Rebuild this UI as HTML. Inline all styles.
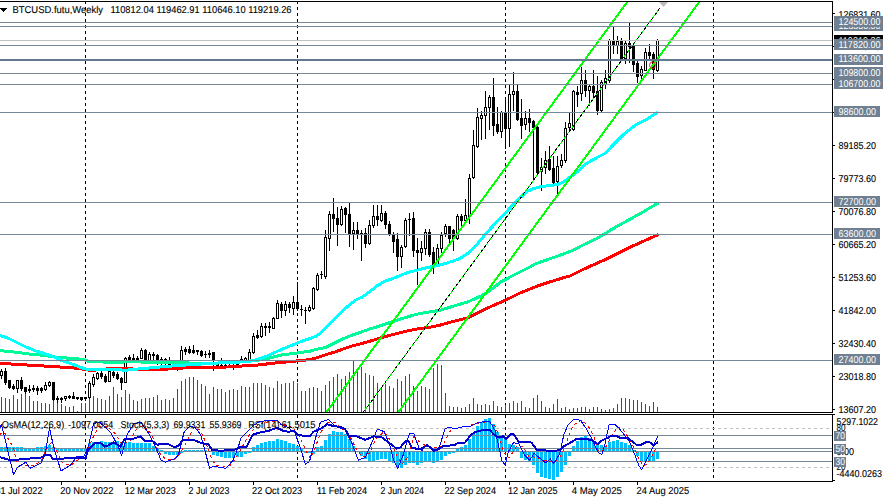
<!DOCTYPE html>
<html><head><meta charset="utf-8"><style>
html,body{margin:0;padding:0;background:#fff;width:883px;height:501px;overflow:hidden}
text{font-family:"Liberation Sans",sans-serif}
</style></head><body>
<svg width="883" height="501" viewBox="0 0 883 501" style="position:absolute;left:0;top:0">
<rect x="0" y="0" width="883" height="501" fill="#ffffff"/>
<g shape-rendering="crispEdges">
<line x1="85.5" y1="2" x2="85.5" y2="412" stroke="#000" stroke-width="1" stroke-dasharray="3 3" stroke-dashoffset="1"/>
<line x1="85.5" y1="415" x2="85.5" y2="481" stroke="#000" stroke-width="1" stroke-dasharray="3 3"/>
<line x1="297.5" y1="2" x2="297.5" y2="412" stroke="#000" stroke-width="1" stroke-dasharray="3 3" stroke-dashoffset="1"/>
<line x1="297.5" y1="415" x2="297.5" y2="481" stroke="#000" stroke-width="1" stroke-dasharray="3 3"/>
<line x1="505.5" y1="2" x2="505.5" y2="412" stroke="#000" stroke-width="1" stroke-dasharray="3 3" stroke-dashoffset="1"/>
<line x1="505.5" y1="415" x2="505.5" y2="481" stroke="#000" stroke-width="1" stroke-dasharray="3 3"/>
<line x1="713.5" y1="2" x2="713.5" y2="412" stroke="#000" stroke-width="1" stroke-dasharray="3 3" stroke-dashoffset="1"/>
<line x1="713.5" y1="415" x2="713.5" y2="481" stroke="#000" stroke-width="1" stroke-dasharray="3 3"/>
<rect x="1" y="397" width="1" height="15" fill="#008000"/>
<rect x="5" y="398" width="1" height="14" fill="#008000"/>
<rect x="9" y="399" width="1" height="13" fill="#008000"/>
<rect x="13" y="395" width="1" height="17" fill="#008000"/>
<rect x="17" y="399" width="1" height="13" fill="#008000"/>
<rect x="21" y="394" width="1" height="18" fill="#008000"/>
<rect x="25" y="392" width="1" height="20" fill="#008000"/>
<rect x="29" y="396" width="1" height="16" fill="#008000"/>
<rect x="33" y="401" width="1" height="11" fill="#008000"/>
<rect x="37" y="401" width="1" height="11" fill="#008000"/>
<rect x="41" y="403" width="1" height="9" fill="#008000"/>
<rect x="45" y="403" width="1" height="9" fill="#008000"/>
<rect x="49" y="404" width="1" height="8" fill="#008000"/>
<rect x="53" y="393" width="1" height="19" fill="#008000"/>
<rect x="57" y="401" width="1" height="11" fill="#008000"/>
<rect x="61" y="404" width="1" height="8" fill="#008000"/>
<rect x="65" y="406" width="1" height="6" fill="#008000"/>
<rect x="69" y="407" width="1" height="5" fill="#008000"/>
<rect x="73" y="406" width="1" height="6" fill="#008000"/>
<rect x="77" y="411" width="1" height="1" fill="#008000"/>
<rect x="81" y="403" width="1" height="9" fill="#008000"/>
<rect x="85" y="403" width="1" height="9" fill="#008000"/>
<rect x="89" y="397" width="1" height="15" fill="#008000"/>
<rect x="93" y="396" width="1" height="16" fill="#008000"/>
<rect x="97" y="398" width="1" height="14" fill="#008000"/>
<rect x="101" y="399" width="1" height="13" fill="#008000"/>
<rect x="105" y="400" width="1" height="12" fill="#008000"/>
<rect x="109" y="396" width="1" height="16" fill="#008000"/>
<rect x="113" y="387" width="1" height="25" fill="#008000"/>
<rect x="117" y="394" width="1" height="18" fill="#008000"/>
<rect x="121" y="397" width="1" height="15" fill="#008000"/>
<rect x="125" y="390" width="1" height="22" fill="#008000"/>
<rect x="129" y="394" width="1" height="18" fill="#008000"/>
<rect x="133" y="400" width="1" height="12" fill="#008000"/>
<rect x="137" y="401" width="1" height="11" fill="#008000"/>
<rect x="141" y="399" width="1" height="13" fill="#008000"/>
<rect x="145" y="398" width="1" height="14" fill="#008000"/>
<rect x="149" y="398" width="1" height="14" fill="#008000"/>
<rect x="153" y="397" width="1" height="15" fill="#008000"/>
<rect x="157" y="395" width="1" height="17" fill="#008000"/>
<rect x="161" y="400" width="1" height="12" fill="#008000"/>
<rect x="165" y="399" width="1" height="13" fill="#008000"/>
<rect x="169" y="400" width="1" height="12" fill="#008000"/>
<rect x="173" y="398" width="1" height="14" fill="#008000"/>
<rect x="177" y="389" width="1" height="23" fill="#008000"/>
<rect x="181" y="381" width="1" height="31" fill="#008000"/>
<rect x="185" y="379" width="1" height="33" fill="#008000"/>
<rect x="189" y="377" width="1" height="35" fill="#008000"/>
<rect x="193" y="377" width="1" height="35" fill="#008000"/>
<rect x="197" y="380" width="1" height="32" fill="#008000"/>
<rect x="201" y="384" width="1" height="28" fill="#008000"/>
<rect x="205" y="386" width="1" height="26" fill="#008000"/>
<rect x="209" y="394" width="1" height="18" fill="#008000"/>
<rect x="213" y="387" width="1" height="25" fill="#008000"/>
<rect x="217" y="389" width="1" height="23" fill="#008000"/>
<rect x="221" y="389" width="1" height="23" fill="#008000"/>
<rect x="225" y="392" width="1" height="20" fill="#008000"/>
<rect x="229" y="390" width="1" height="22" fill="#008000"/>
<rect x="233" y="389" width="1" height="23" fill="#008000"/>
<rect x="237" y="390" width="1" height="22" fill="#008000"/>
<rect x="241" y="386" width="1" height="26" fill="#008000"/>
<rect x="245" y="387" width="1" height="25" fill="#008000"/>
<rect x="249" y="387" width="1" height="25" fill="#008000"/>
<rect x="253" y="383" width="1" height="29" fill="#008000"/>
<rect x="257" y="383" width="1" height="29" fill="#008000"/>
<rect x="261" y="383" width="1" height="29" fill="#008000"/>
<rect x="265" y="385" width="1" height="27" fill="#008000"/>
<rect x="269" y="387" width="1" height="25" fill="#008000"/>
<rect x="273" y="388" width="1" height="24" fill="#008000"/>
<rect x="277" y="381" width="1" height="31" fill="#008000"/>
<rect x="281" y="384" width="1" height="28" fill="#008000"/>
<rect x="285" y="383" width="1" height="29" fill="#008000"/>
<rect x="289" y="383" width="1" height="29" fill="#008000"/>
<rect x="293" y="381" width="1" height="31" fill="#008000"/>
<rect x="297" y="383" width="1" height="29" fill="#008000"/>
<rect x="301" y="391" width="1" height="21" fill="#008000"/>
<rect x="305" y="391" width="1" height="21" fill="#008000"/>
<rect x="309" y="388" width="1" height="24" fill="#008000"/>
<rect x="313" y="387" width="1" height="25" fill="#008000"/>
<rect x="317" y="388" width="1" height="24" fill="#008000"/>
<rect x="321" y="391" width="1" height="21" fill="#008000"/>
<rect x="325" y="385" width="1" height="27" fill="#008000"/>
<rect x="329" y="381" width="1" height="31" fill="#008000"/>
<rect x="333" y="377" width="1" height="35" fill="#008000"/>
<rect x="337" y="374" width="1" height="38" fill="#008000"/>
<rect x="341" y="379" width="1" height="33" fill="#008000"/>
<rect x="345" y="376" width="1" height="36" fill="#008000"/>
<rect x="349" y="372" width="1" height="40" fill="#008000"/>
<rect x="353" y="361" width="1" height="51" fill="#008000"/>
<rect x="357" y="372" width="1" height="40" fill="#008000"/>
<rect x="361" y="367" width="1" height="45" fill="#008000"/>
<rect x="365" y="373" width="1" height="39" fill="#008000"/>
<rect x="369" y="375" width="1" height="37" fill="#008000"/>
<rect x="373" y="376" width="1" height="36" fill="#008000"/>
<rect x="377" y="383" width="1" height="29" fill="#008000"/>
<rect x="381" y="387" width="1" height="25" fill="#008000"/>
<rect x="385" y="384" width="1" height="28" fill="#008000"/>
<rect x="389" y="386" width="1" height="26" fill="#008000"/>
<rect x="393" y="388" width="1" height="24" fill="#008000"/>
<rect x="397" y="379" width="1" height="33" fill="#008000"/>
<rect x="401" y="381" width="1" height="31" fill="#008000"/>
<rect x="405" y="376" width="1" height="36" fill="#008000"/>
<rect x="409" y="374" width="1" height="38" fill="#008000"/>
<rect x="413" y="386" width="1" height="26" fill="#008000"/>
<rect x="417" y="391" width="1" height="21" fill="#008000"/>
<rect x="421" y="386" width="1" height="26" fill="#008000"/>
<rect x="425" y="387" width="1" height="25" fill="#008000"/>
<rect x="429" y="389" width="1" height="23" fill="#008000"/>
<rect x="433" y="368" width="1" height="44" fill="#008000"/>
<rect x="437" y="364" width="1" height="48" fill="#008000"/>
<rect x="441" y="365" width="1" height="47" fill="#008000"/>
<rect x="445" y="393" width="1" height="19" fill="#008000"/>
<rect x="449" y="406" width="1" height="6" fill="#008000"/>
<rect x="453" y="407" width="1" height="5" fill="#008000"/>
<rect x="457" y="407" width="1" height="5" fill="#008000"/>
<rect x="461" y="408" width="1" height="4" fill="#008000"/>
<rect x="465" y="407" width="1" height="5" fill="#008000"/>
<rect x="469" y="404" width="1" height="8" fill="#008000"/>
<rect x="473" y="398" width="1" height="14" fill="#008000"/>
<rect x="477" y="404" width="1" height="8" fill="#008000"/>
<rect x="481" y="405" width="1" height="7" fill="#008000"/>
<rect x="485" y="404" width="1" height="8" fill="#008000"/>
<rect x="489" y="405" width="1" height="7" fill="#008000"/>
<rect x="493" y="401" width="1" height="11" fill="#008000"/>
<rect x="497" y="406" width="1" height="6" fill="#008000"/>
<rect x="501" y="407" width="1" height="5" fill="#008000"/>
<rect x="505" y="405" width="1" height="7" fill="#008000"/>
<rect x="509" y="403" width="1" height="9" fill="#008000"/>
<rect x="513" y="401" width="1" height="11" fill="#008000"/>
<rect x="517" y="403" width="1" height="9" fill="#008000"/>
<rect x="521" y="401" width="1" height="11" fill="#008000"/>
<rect x="525" y="407" width="1" height="5" fill="#008000"/>
<rect x="529" y="408" width="1" height="4" fill="#008000"/>
<rect x="533" y="398" width="1" height="14" fill="#008000"/>
<rect x="537" y="395" width="1" height="17" fill="#008000"/>
<rect x="541" y="401" width="1" height="11" fill="#008000"/>
<rect x="545" y="407" width="1" height="5" fill="#008000"/>
<rect x="549" y="408" width="1" height="4" fill="#008000"/>
<rect x="553" y="404" width="1" height="8" fill="#008000"/>
<rect x="557" y="399" width="1" height="13" fill="#008000"/>
<rect x="561" y="408" width="1" height="4" fill="#008000"/>
<rect x="565" y="407" width="1" height="5" fill="#008000"/>
<rect x="569" y="409" width="1" height="3" fill="#008000"/>
<rect x="573" y="408" width="1" height="4" fill="#008000"/>
<rect x="577" y="408" width="1" height="4" fill="#008000"/>
<rect x="581" y="407" width="1" height="5" fill="#008000"/>
<rect x="585" y="407" width="1" height="5" fill="#008000"/>
<rect x="589" y="409" width="1" height="3" fill="#008000"/>
<rect x="593" y="407" width="1" height="5" fill="#008000"/>
<rect x="597" y="407" width="1" height="5" fill="#008000"/>
<rect x="601" y="409" width="1" height="3" fill="#008000"/>
<rect x="605" y="410" width="1" height="2" fill="#008000"/>
<rect x="609" y="409" width="1" height="3" fill="#008000"/>
<rect x="613" y="408" width="1" height="4" fill="#008000"/>
<rect x="617" y="404" width="1" height="8" fill="#008000"/>
<rect x="621" y="398" width="1" height="14" fill="#008000"/>
<rect x="625" y="398" width="1" height="14" fill="#008000"/>
<rect x="629" y="399" width="1" height="13" fill="#008000"/>
<rect x="633" y="400" width="1" height="12" fill="#008000"/>
<rect x="637" y="400" width="1" height="12" fill="#008000"/>
<rect x="641" y="402" width="1" height="10" fill="#008000"/>
<rect x="645" y="404" width="1" height="8" fill="#008000"/>
<rect x="649" y="406" width="1" height="6" fill="#008000"/>
<rect x="653" y="402" width="1" height="10" fill="#008000"/>
<rect x="657" y="407" width="1" height="5" fill="#008000"/>
</g>
<g shape-rendering="crispEdges">
<rect x="1" y="369" width="1" height="10" fill="#000"/>
<rect x="0" y="371" width="3" height="5" fill="#000"/>
<rect x="1" y="372" width="1" height="3" fill="#fff"/>
<rect x="5" y="368" width="1" height="17" fill="#000"/>
<rect x="4" y="371" width="3" height="12" fill="#000"/>
<rect x="9" y="380" width="1" height="9" fill="#000"/>
<rect x="8" y="380" width="3" height="8" fill="#000"/>
<rect x="13" y="384" width="1" height="6" fill="#000"/>
<rect x="12" y="386" width="3" height="3" fill="#000"/>
<rect x="17" y="380" width="1" height="13" fill="#000"/>
<rect x="16" y="380" width="3" height="9" fill="#000"/>
<rect x="17" y="381" width="1" height="7" fill="#fff"/>
<rect x="21" y="377" width="1" height="14" fill="#000"/>
<rect x="20" y="380" width="3" height="9" fill="#000"/>
<rect x="25" y="387" width="1" height="7" fill="#000"/>
<rect x="24" y="387" width="3" height="5" fill="#000"/>
<rect x="29" y="385" width="1" height="8" fill="#000"/>
<rect x="28" y="389" width="3" height="2" fill="#000"/>
<rect x="33" y="385" width="1" height="7" fill="#000"/>
<rect x="32" y="388" width="3" height="2" fill="#000"/>
<rect x="37" y="386" width="1" height="9" fill="#000"/>
<rect x="36" y="388" width="3" height="3" fill="#000"/>
<rect x="41" y="387" width="1" height="6" fill="#000"/>
<rect x="40" y="388" width="3" height="3" fill="#000"/>
<rect x="45" y="382" width="1" height="9" fill="#000"/>
<rect x="44" y="385" width="3" height="5" fill="#000"/>
<rect x="45" y="386" width="1" height="3" fill="#fff"/>
<rect x="49" y="381" width="1" height="6" fill="#000"/>
<rect x="48" y="382" width="3" height="4" fill="#000"/>
<rect x="49" y="383" width="1" height="2" fill="#fff"/>
<rect x="53" y="382" width="1" height="19" fill="#000"/>
<rect x="52" y="382" width="3" height="18" fill="#000"/>
<rect x="57" y="396" width="1" height="7" fill="#000"/>
<rect x="56" y="398" width="3" height="2" fill="#000"/>
<rect x="61" y="397" width="1" height="6" fill="#000"/>
<rect x="60" y="398" width="3" height="2" fill="#000"/>
<rect x="65" y="396" width="1" height="5" fill="#000"/>
<rect x="64" y="396" width="3" height="3" fill="#000"/>
<rect x="65" y="397" width="1" height="1" fill="#fff"/>
<rect x="69" y="395" width="1" height="4" fill="#000"/>
<rect x="68" y="396" width="3" height="2" fill="#000"/>
<rect x="73" y="392" width="1" height="7" fill="#000"/>
<rect x="72" y="396" width="3" height="3" fill="#000"/>
<rect x="77" y="397" width="1" height="3" fill="#000"/>
<rect x="76" y="397" width="3" height="2" fill="#000"/>
<rect x="81" y="397" width="1" height="4" fill="#000"/>
<rect x="80" y="397" width="3" height="3" fill="#000"/>
<rect x="85" y="397" width="1" height="4" fill="#000"/>
<rect x="84" y="397" width="3" height="2" fill="#000"/>
<rect x="89" y="381" width="1" height="18" fill="#000"/>
<rect x="88" y="383" width="3" height="15" fill="#000"/>
<rect x="89" y="384" width="1" height="13" fill="#fff"/>
<rect x="93" y="374" width="1" height="13" fill="#000"/>
<rect x="92" y="377" width="3" height="8" fill="#000"/>
<rect x="93" y="378" width="1" height="6" fill="#fff"/>
<rect x="97" y="372" width="1" height="8" fill="#000"/>
<rect x="96" y="373" width="3" height="6" fill="#000"/>
<rect x="97" y="374" width="1" height="4" fill="#fff"/>
<rect x="101" y="371" width="1" height="8" fill="#000"/>
<rect x="100" y="373" width="3" height="4" fill="#000"/>
<rect x="105" y="374" width="1" height="9" fill="#000"/>
<rect x="104" y="376" width="3" height="6" fill="#000"/>
<rect x="109" y="371" width="1" height="11" fill="#000"/>
<rect x="108" y="371" width="3" height="11" fill="#000"/>
<rect x="109" y="372" width="1" height="9" fill="#fff"/>
<rect x="113" y="371" width="1" height="7" fill="#000"/>
<rect x="112" y="372" width="3" height="4" fill="#000"/>
<rect x="117" y="372" width="1" height="8" fill="#000"/>
<rect x="116" y="374" width="3" height="5" fill="#000"/>
<rect x="121" y="377" width="1" height="13" fill="#000"/>
<rect x="120" y="378" width="3" height="5" fill="#000"/>
<rect x="125" y="357" width="1" height="26" fill="#000"/>
<rect x="124" y="358" width="3" height="25" fill="#000"/>
<rect x="125" y="359" width="1" height="23" fill="#fff"/>
<rect x="129" y="355" width="1" height="6" fill="#000"/>
<rect x="128" y="357" width="3" height="3" fill="#000"/>
<rect x="133" y="354" width="1" height="7" fill="#000"/>
<rect x="132" y="358" width="3" height="3" fill="#000"/>
<rect x="137" y="356" width="1" height="5" fill="#000"/>
<rect x="136" y="358" width="3" height="2" fill="#000"/>
<rect x="141" y="348" width="1" height="11" fill="#000"/>
<rect x="140" y="350" width="3" height="9" fill="#000"/>
<rect x="141" y="351" width="1" height="7" fill="#fff"/>
<rect x="145" y="349" width="1" height="13" fill="#000"/>
<rect x="144" y="350" width="3" height="11" fill="#000"/>
<rect x="149" y="352" width="1" height="9" fill="#000"/>
<rect x="148" y="354" width="3" height="7" fill="#000"/>
<rect x="149" y="355" width="1" height="5" fill="#fff"/>
<rect x="153" y="352" width="1" height="9" fill="#000"/>
<rect x="152" y="354" width="3" height="2" fill="#000"/>
<rect x="157" y="354" width="1" height="11" fill="#000"/>
<rect x="156" y="355" width="3" height="6" fill="#000"/>
<rect x="161" y="357" width="1" height="9" fill="#000"/>
<rect x="160" y="359" width="3" height="2" fill="#000"/>
<rect x="165" y="358" width="1" height="7" fill="#000"/>
<rect x="164" y="359" width="3" height="2" fill="#000"/>
<rect x="169" y="357" width="1" height="9" fill="#000"/>
<rect x="168" y="364" width="3" height="2" fill="#000"/>
<rect x="173" y="362" width="1" height="4" fill="#000"/>
<rect x="172" y="364" width="3" height="2" fill="#000"/>
<rect x="177" y="363" width="1" height="8" fill="#000"/>
<rect x="176" y="364" width="3" height="2" fill="#000"/>
<rect x="181" y="346" width="1" height="15" fill="#000"/>
<rect x="180" y="350" width="3" height="11" fill="#000"/>
<rect x="181" y="351" width="1" height="9" fill="#fff"/>
<rect x="185" y="347" width="1" height="8" fill="#000"/>
<rect x="184" y="349" width="3" height="3" fill="#000"/>
<rect x="189" y="346" width="1" height="8" fill="#000"/>
<rect x="188" y="349" width="3" height="4" fill="#000"/>
<rect x="193" y="345" width="1" height="9" fill="#000"/>
<rect x="192" y="350" width="3" height="3" fill="#000"/>
<rect x="197" y="350" width="1" height="5" fill="#000"/>
<rect x="196" y="350" width="3" height="2" fill="#000"/>
<rect x="201" y="350" width="1" height="7" fill="#000"/>
<rect x="200" y="351" width="3" height="5" fill="#000"/>
<rect x="205" y="351" width="1" height="7" fill="#000"/>
<rect x="204" y="354" width="3" height="1" fill="#000"/>
<rect x="209" y="350" width="1" height="8" fill="#000"/>
<rect x="208" y="353" width="3" height="2" fill="#000"/>
<rect x="213" y="352" width="1" height="19" fill="#000"/>
<rect x="212" y="352" width="3" height="9" fill="#000"/>
<rect x="217" y="363" width="1" height="4" fill="#000"/>
<rect x="216" y="364" width="3" height="2" fill="#000"/>
<rect x="221" y="358" width="1" height="9" fill="#000"/>
<rect x="220" y="365" width="3" height="1" fill="#000"/>
<rect x="225" y="364" width="1" height="3" fill="#000"/>
<rect x="224" y="365" width="3" height="1" fill="#000"/>
<rect x="229" y="364" width="1" height="3" fill="#000"/>
<rect x="228" y="365" width="3" height="1" fill="#000"/>
<rect x="233" y="364" width="1" height="6" fill="#000"/>
<rect x="232" y="365" width="3" height="1" fill="#000"/>
<rect x="237" y="363" width="1" height="3" fill="#000"/>
<rect x="236" y="364" width="3" height="1" fill="#000"/>
<rect x="241" y="356" width="1" height="5" fill="#000"/>
<rect x="240" y="359" width="3" height="2" fill="#000"/>
<rect x="245" y="357" width="1" height="4" fill="#000"/>
<rect x="244" y="358" width="3" height="3" fill="#000"/>
<rect x="245" y="359" width="1" height="1" fill="#fff"/>
<rect x="249" y="349" width="1" height="12" fill="#000"/>
<rect x="248" y="352" width="3" height="9" fill="#000"/>
<rect x="249" y="353" width="1" height="7" fill="#fff"/>
<rect x="253" y="333" width="1" height="21" fill="#000"/>
<rect x="252" y="336" width="3" height="17" fill="#000"/>
<rect x="253" y="337" width="1" height="15" fill="#fff"/>
<rect x="257" y="330" width="1" height="9" fill="#000"/>
<rect x="256" y="335" width="3" height="3" fill="#000"/>
<rect x="261" y="323" width="1" height="15" fill="#000"/>
<rect x="260" y="326" width="3" height="11" fill="#000"/>
<rect x="261" y="327" width="1" height="9" fill="#fff"/>
<rect x="265" y="323" width="1" height="13" fill="#000"/>
<rect x="264" y="326" width="3" height="2" fill="#000"/>
<rect x="269" y="322" width="1" height="11" fill="#000"/>
<rect x="268" y="326" width="3" height="2" fill="#000"/>
<rect x="273" y="317" width="1" height="12" fill="#000"/>
<rect x="272" y="318" width="3" height="11" fill="#000"/>
<rect x="273" y="319" width="1" height="9" fill="#fff"/>
<rect x="277" y="300" width="1" height="19" fill="#000"/>
<rect x="276" y="303" width="3" height="16" fill="#000"/>
<rect x="277" y="304" width="1" height="14" fill="#fff"/>
<rect x="281" y="302" width="1" height="16" fill="#000"/>
<rect x="280" y="304" width="3" height="7" fill="#000"/>
<rect x="285" y="301" width="1" height="15" fill="#000"/>
<rect x="284" y="304" width="3" height="7" fill="#000"/>
<rect x="285" y="305" width="1" height="5" fill="#fff"/>
<rect x="289" y="302" width="1" height="11" fill="#000"/>
<rect x="288" y="304" width="3" height="4" fill="#000"/>
<rect x="293" y="296" width="1" height="19" fill="#000"/>
<rect x="292" y="302" width="3" height="7" fill="#000"/>
<rect x="293" y="303" width="1" height="5" fill="#fff"/>
<rect x="297" y="282" width="1" height="29" fill="#000"/>
<rect x="296" y="302" width="3" height="7" fill="#000"/>
<rect x="301" y="305" width="1" height="11" fill="#000"/>
<rect x="300" y="309" width="3" height="1" fill="#000"/>
<rect x="305" y="307" width="1" height="17" fill="#000"/>
<rect x="304" y="310" width="3" height="1" fill="#000"/>
<rect x="309" y="305" width="1" height="7" fill="#000"/>
<rect x="308" y="307" width="3" height="4" fill="#000"/>
<rect x="309" y="308" width="1" height="2" fill="#fff"/>
<rect x="313" y="287" width="1" height="23" fill="#000"/>
<rect x="312" y="288" width="3" height="21" fill="#000"/>
<rect x="313" y="289" width="1" height="19" fill="#fff"/>
<rect x="317" y="273" width="1" height="18" fill="#000"/>
<rect x="316" y="275" width="3" height="15" fill="#000"/>
<rect x="317" y="276" width="1" height="13" fill="#fff"/>
<rect x="321" y="271" width="1" height="8" fill="#000"/>
<rect x="320" y="274" width="3" height="1" fill="#000"/>
<rect x="325" y="230" width="1" height="49" fill="#000"/>
<rect x="324" y="237" width="3" height="40" fill="#000"/>
<rect x="325" y="238" width="1" height="38" fill="#fff"/>
<rect x="329" y="211" width="1" height="40" fill="#000"/>
<rect x="328" y="214" width="3" height="25" fill="#000"/>
<rect x="329" y="215" width="1" height="23" fill="#fff"/>
<rect x="333" y="198" width="1" height="34" fill="#000"/>
<rect x="332" y="214" width="3" height="5" fill="#000"/>
<rect x="337" y="207" width="1" height="39" fill="#000"/>
<rect x="336" y="218" width="3" height="7" fill="#000"/>
<rect x="341" y="206" width="1" height="20" fill="#000"/>
<rect x="340" y="209" width="3" height="16" fill="#000"/>
<rect x="341" y="210" width="1" height="14" fill="#fff"/>
<rect x="345" y="207" width="1" height="26" fill="#000"/>
<rect x="344" y="208" width="3" height="7" fill="#000"/>
<rect x="349" y="203" width="1" height="44" fill="#000"/>
<rect x="348" y="214" width="3" height="21" fill="#000"/>
<rect x="353" y="222" width="1" height="28" fill="#000"/>
<rect x="352" y="230" width="3" height="4" fill="#000"/>
<rect x="353" y="231" width="1" height="2" fill="#fff"/>
<rect x="357" y="222" width="1" height="17" fill="#000"/>
<rect x="356" y="230" width="3" height="4" fill="#000"/>
<rect x="361" y="230" width="1" height="31" fill="#000"/>
<rect x="360" y="233" width="3" height="1" fill="#000"/>
<rect x="365" y="228" width="1" height="20" fill="#000"/>
<rect x="364" y="233" width="3" height="11" fill="#000"/>
<rect x="369" y="220" width="1" height="25" fill="#000"/>
<rect x="368" y="225" width="3" height="19" fill="#000"/>
<rect x="369" y="226" width="1" height="17" fill="#fff"/>
<rect x="373" y="205" width="1" height="23" fill="#000"/>
<rect x="372" y="216" width="3" height="10" fill="#000"/>
<rect x="373" y="217" width="1" height="8" fill="#fff"/>
<rect x="377" y="205" width="1" height="21" fill="#000"/>
<rect x="376" y="216" width="3" height="4" fill="#000"/>
<rect x="381" y="205" width="1" height="17" fill="#000"/>
<rect x="380" y="213" width="3" height="8" fill="#000"/>
<rect x="381" y="214" width="1" height="6" fill="#fff"/>
<rect x="385" y="211" width="1" height="18" fill="#000"/>
<rect x="384" y="213" width="3" height="12" fill="#000"/>
<rect x="389" y="221" width="1" height="15" fill="#000"/>
<rect x="388" y="224" width="3" height="11" fill="#000"/>
<rect x="393" y="232" width="1" height="21" fill="#000"/>
<rect x="392" y="234" width="3" height="8" fill="#000"/>
<rect x="397" y="233" width="1" height="38" fill="#000"/>
<rect x="396" y="239" width="3" height="18" fill="#000"/>
<rect x="401" y="245" width="1" height="23" fill="#000"/>
<rect x="400" y="247" width="3" height="10" fill="#000"/>
<rect x="401" y="248" width="1" height="8" fill="#fff"/>
<rect x="405" y="218" width="1" height="30" fill="#000"/>
<rect x="404" y="220" width="3" height="27" fill="#000"/>
<rect x="405" y="221" width="1" height="25" fill="#fff"/>
<rect x="409" y="213" width="1" height="23" fill="#000"/>
<rect x="408" y="219" width="3" height="1" fill="#000"/>
<rect x="413" y="212" width="1" height="45" fill="#000"/>
<rect x="412" y="218" width="3" height="33" fill="#000"/>
<rect x="417" y="238" width="1" height="47" fill="#000"/>
<rect x="416" y="250" width="3" height="3" fill="#000"/>
<rect x="421" y="241" width="1" height="20" fill="#000"/>
<rect x="420" y="248" width="3" height="5" fill="#000"/>
<rect x="421" y="249" width="1" height="3" fill="#fff"/>
<rect x="425" y="229" width="1" height="26" fill="#000"/>
<rect x="424" y="232" width="3" height="17" fill="#000"/>
<rect x="425" y="233" width="1" height="15" fill="#fff"/>
<rect x="429" y="229" width="1" height="28" fill="#000"/>
<rect x="428" y="232" width="3" height="23" fill="#000"/>
<rect x="433" y="247" width="1" height="27" fill="#000"/>
<rect x="432" y="252" width="3" height="14" fill="#000"/>
<rect x="437" y="244" width="1" height="23" fill="#000"/>
<rect x="436" y="248" width="3" height="17" fill="#000"/>
<rect x="437" y="249" width="1" height="15" fill="#fff"/>
<rect x="441" y="232" width="1" height="21" fill="#000"/>
<rect x="440" y="235" width="3" height="14" fill="#000"/>
<rect x="441" y="236" width="1" height="12" fill="#fff"/>
<rect x="445" y="224" width="1" height="13" fill="#000"/>
<rect x="444" y="226" width="3" height="8" fill="#000"/>
<rect x="445" y="227" width="1" height="6" fill="#fff"/>
<rect x="449" y="226" width="1" height="17" fill="#000"/>
<rect x="448" y="226" width="3" height="13" fill="#000"/>
<rect x="453" y="229" width="1" height="22" fill="#000"/>
<rect x="452" y="230" width="3" height="9" fill="#000"/>
<rect x="457" y="214" width="1" height="26" fill="#000"/>
<rect x="456" y="216" width="3" height="23" fill="#000"/>
<rect x="457" y="217" width="1" height="21" fill="#fff"/>
<rect x="461" y="214" width="1" height="14" fill="#000"/>
<rect x="460" y="216" width="3" height="5" fill="#000"/>
<rect x="465" y="199" width="1" height="23" fill="#000"/>
<rect x="464" y="215" width="3" height="6" fill="#000"/>
<rect x="465" y="216" width="1" height="4" fill="#fff"/>
<rect x="469" y="174" width="1" height="50" fill="#000"/>
<rect x="468" y="178" width="3" height="39" fill="#000"/>
<rect x="469" y="179" width="1" height="37" fill="#fff"/>
<rect x="473" y="130" width="1" height="49" fill="#000"/>
<rect x="472" y="145" width="3" height="33" fill="#000"/>
<rect x="473" y="146" width="1" height="31" fill="#fff"/>
<rect x="477" y="108" width="1" height="40" fill="#000"/>
<rect x="476" y="117" width="3" height="30" fill="#000"/>
<rect x="477" y="118" width="1" height="28" fill="#fff"/>
<rect x="481" y="111" width="1" height="29" fill="#000"/>
<rect x="480" y="115" width="3" height="4" fill="#000"/>
<rect x="481" y="116" width="1" height="2" fill="#fff"/>
<rect x="485" y="91" width="1" height="48" fill="#000"/>
<rect x="484" y="107" width="3" height="9" fill="#000"/>
<rect x="485" y="108" width="1" height="7" fill="#fff"/>
<rect x="489" y="95" width="1" height="35" fill="#000"/>
<rect x="488" y="97" width="3" height="11" fill="#000"/>
<rect x="489" y="98" width="1" height="9" fill="#fff"/>
<rect x="493" y="78" width="1" height="58" fill="#000"/>
<rect x="492" y="97" width="3" height="29" fill="#000"/>
<rect x="497" y="107" width="1" height="27" fill="#000"/>
<rect x="496" y="124" width="3" height="8" fill="#000"/>
<rect x="501" y="111" width="1" height="27" fill="#000"/>
<rect x="500" y="112" width="3" height="20" fill="#000"/>
<rect x="501" y="113" width="1" height="18" fill="#fff"/>
<rect x="505" y="98" width="1" height="51" fill="#000"/>
<rect x="504" y="112" width="3" height="17" fill="#000"/>
<rect x="509" y="85" width="1" height="62" fill="#000"/>
<rect x="508" y="94" width="3" height="35" fill="#000"/>
<rect x="509" y="95" width="1" height="33" fill="#fff"/>
<rect x="513" y="72" width="1" height="39" fill="#000"/>
<rect x="512" y="91" width="3" height="4" fill="#000"/>
<rect x="513" y="92" width="1" height="2" fill="#fff"/>
<rect x="517" y="85" width="1" height="36" fill="#000"/>
<rect x="516" y="91" width="3" height="29" fill="#000"/>
<rect x="521" y="99" width="1" height="40" fill="#000"/>
<rect x="520" y="118" width="3" height="8" fill="#000"/>
<rect x="525" y="111" width="1" height="19" fill="#000"/>
<rect x="524" y="118" width="3" height="7" fill="#000"/>
<rect x="525" y="119" width="1" height="5" fill="#fff"/>
<rect x="529" y="109" width="1" height="23" fill="#000"/>
<rect x="528" y="118" width="3" height="5" fill="#000"/>
<rect x="533" y="120" width="1" height="61" fill="#000"/>
<rect x="532" y="121" width="3" height="7" fill="#000"/>
<rect x="537" y="125" width="1" height="49" fill="#000"/>
<rect x="536" y="127" width="3" height="46" fill="#000"/>
<rect x="541" y="158" width="1" height="33" fill="#000"/>
<rect x="540" y="167" width="3" height="5" fill="#000"/>
<rect x="541" y="168" width="1" height="3" fill="#fff"/>
<rect x="545" y="151" width="1" height="23" fill="#000"/>
<rect x="544" y="160" width="3" height="8" fill="#000"/>
<rect x="545" y="161" width="1" height="6" fill="#fff"/>
<rect x="549" y="146" width="1" height="25" fill="#000"/>
<rect x="548" y="159" width="3" height="11" fill="#000"/>
<rect x="553" y="156" width="1" height="28" fill="#000"/>
<rect x="552" y="168" width="3" height="15" fill="#000"/>
<rect x="557" y="156" width="1" height="39" fill="#000"/>
<rect x="556" y="166" width="3" height="16" fill="#000"/>
<rect x="557" y="167" width="1" height="14" fill="#fff"/>
<rect x="561" y="154" width="1" height="14" fill="#000"/>
<rect x="560" y="160" width="3" height="6" fill="#000"/>
<rect x="561" y="161" width="1" height="4" fill="#fff"/>
<rect x="565" y="122" width="1" height="41" fill="#000"/>
<rect x="564" y="128" width="3" height="33" fill="#000"/>
<rect x="565" y="129" width="1" height="31" fill="#fff"/>
<rect x="569" y="112" width="1" height="19" fill="#000"/>
<rect x="568" y="123" width="3" height="5" fill="#000"/>
<rect x="569" y="124" width="1" height="3" fill="#fff"/>
<rect x="573" y="90" width="1" height="41" fill="#000"/>
<rect x="572" y="91" width="3" height="39" fill="#000"/>
<rect x="573" y="92" width="1" height="37" fill="#fff"/>
<rect x="577" y="86" width="1" height="21" fill="#000"/>
<rect x="576" y="92" width="3" height="3" fill="#000"/>
<rect x="581" y="67" width="1" height="34" fill="#000"/>
<rect x="580" y="80" width="3" height="14" fill="#000"/>
<rect x="581" y="81" width="1" height="12" fill="#fff"/>
<rect x="585" y="70" width="1" height="27" fill="#000"/>
<rect x="584" y="80" width="3" height="11" fill="#000"/>
<rect x="589" y="85" width="1" height="21" fill="#000"/>
<rect x="588" y="86" width="3" height="5" fill="#000"/>
<rect x="589" y="87" width="1" height="3" fill="#fff"/>
<rect x="593" y="70" width="1" height="28" fill="#000"/>
<rect x="592" y="86" width="3" height="7" fill="#000"/>
<rect x="597" y="76" width="1" height="39" fill="#000"/>
<rect x="596" y="91" width="3" height="20" fill="#000"/>
<rect x="601" y="80" width="1" height="33" fill="#000"/>
<rect x="600" y="82" width="3" height="29" fill="#000"/>
<rect x="601" y="83" width="1" height="27" fill="#fff"/>
<rect x="605" y="70" width="1" height="19" fill="#000"/>
<rect x="604" y="78" width="3" height="7" fill="#000"/>
<rect x="605" y="79" width="1" height="5" fill="#fff"/>
<rect x="609" y="39" width="1" height="44" fill="#000"/>
<rect x="608" y="40" width="3" height="41" fill="#000"/>
<rect x="609" y="41" width="1" height="39" fill="#fff"/>
<rect x="613" y="26" width="1" height="28" fill="#000"/>
<rect x="612" y="40" width="3" height="5" fill="#000"/>
<rect x="617" y="36" width="1" height="18" fill="#000"/>
<rect x="616" y="41" width="3" height="5" fill="#000"/>
<rect x="617" y="42" width="1" height="3" fill="#fff"/>
<rect x="621" y="38" width="1" height="23" fill="#000"/>
<rect x="620" y="40" width="3" height="19" fill="#000"/>
<rect x="625" y="40" width="1" height="24" fill="#000"/>
<rect x="624" y="43" width="3" height="16" fill="#000"/>
<rect x="625" y="44" width="1" height="14" fill="#fff"/>
<rect x="629" y="23" width="1" height="40" fill="#000"/>
<rect x="628" y="43" width="3" height="4" fill="#000"/>
<rect x="633" y="45" width="1" height="27" fill="#000"/>
<rect x="632" y="46" width="3" height="19" fill="#000"/>
<rect x="637" y="61" width="1" height="22" fill="#000"/>
<rect x="636" y="63" width="3" height="14" fill="#000"/>
<rect x="641" y="66" width="1" height="15" fill="#000"/>
<rect x="640" y="69" width="3" height="7" fill="#000"/>
<rect x="641" y="70" width="1" height="5" fill="#fff"/>
<rect x="645" y="48" width="1" height="23" fill="#000"/>
<rect x="644" y="52" width="3" height="19" fill="#000"/>
<rect x="645" y="53" width="1" height="17" fill="#fff"/>
<rect x="649" y="44" width="1" height="15" fill="#000"/>
<rect x="648" y="52" width="3" height="4" fill="#000"/>
<rect x="653" y="52" width="1" height="27" fill="#000"/>
<rect x="652" y="54" width="3" height="16" fill="#000"/>
<rect x="657" y="39" width="1" height="33" fill="#000"/>
<rect x="656" y="40" width="3" height="31" fill="#000"/>
<rect x="657" y="41" width="1" height="29" fill="#fff"/>
</g>
<g shape-rendering="crispEdges">
<path d="M0.0,363.3 L27.0,365.0 L54.0,366.6 L60.0,367.0 L71.9,367.8 L79.8,368.6 L83.8,369.2 L89.3,370.3 L100.0,369.8 L111.5,368.4 L127.0,368.4 L140.0,369.8 L150.0,369.5 L179.0,368.7 L186.0,367.3 L228.0,367.0 L234.0,366.2 L240.0,366.1 L256.4,365.2 L262.0,364.6 L272.7,363.2 L289.1,361.7 L297.3,360.9 L305.5,360.1 L313.7,358.8 L325.0,355.0 L334.0,352.3 L343.0,349.1 L352.0,346.0 L361.0,343.8 L370.0,341.1 L379.0,338.5 L389.0,335.5 L398.0,333.2 L407.0,331.0 L416.0,329.2 L425.0,327.9 L434.0,326.5 L440.0,325.2 L450.0,322.2 L460.0,319.8 L467.0,318.0 L474.0,314.9 L480.9,311.4 L487.9,307.9 L494.9,304.8 L500.0,302.6 L510.0,298.0 L520.0,293.0 L530.0,289.0 L535.0,287.0 L545.0,283.4 L555.0,280.4 L565.0,277.3 L570.0,276.0 L583.0,269.5 L596.0,263.7 L609.0,257.9 L615.0,254.7 L628.0,248.2 L641.0,242.3 L654.0,236.5 L658.5,234.6" fill="none" stroke="#ff0000" stroke-width="3" stroke-linejoin="round" />
<path d="M0.0,350.6 L9.0,351.5 L18.0,352.4 L27.0,353.8 L36.0,354.6 L45.0,355.5 L54.0,356.9 L62.9,357.8 L71.9,358.3 L83.8,359.5 L87.8,361.1 L107.6,362.3 L130.0,361.9 L161.0,362.2 L182.0,362.4 L195.0,363.6 L212.0,363.3 L240.0,362.0 L256.4,360.4 L265.0,359.1 L274.0,356.9 L283.0,354.6 L292.0,353.7 L301.0,352.4 L310.0,351.1 L319.0,348.8 L325.0,347.6 L334.0,343.3 L343.0,338.8 L352.0,335.2 L361.0,332.1 L370.0,328.9 L379.0,326.2 L389.0,322.9 L398.0,319.8 L407.0,317.1 L416.0,314.4 L425.0,312.6 L434.0,311.2 L440.0,310.3 L450.0,307.2 L460.0,304.1 L467.0,302.3 L474.0,299.2 L481.0,296.0 L487.0,292.5 L494.0,287.5 L500.0,282.5 L510.0,277.0 L520.0,272.0 L530.0,267.0 L535.0,264.0 L545.0,260.5 L555.0,257.0 L565.0,253.5 L575.0,249.3 L583.0,245.0 L596.0,239.0 L609.0,231.2 L615.0,227.5 L628.0,220.3 L641.0,213.2 L654.0,205.4 L658.5,202.8" fill="none" stroke="#00fa9a" stroke-width="3" stroke-linejoin="round" />
<path d="M0.0,335.4 L9.0,338.5 L18.0,343.0 L27.0,347.5 L36.0,351.0 L45.0,353.7 L54.0,357.0 L62.9,361.0 L71.9,363.9 L83.8,368.6 L88.0,369.4 L99.7,369.4 L111.5,369.8 L127.0,370.1 L144.0,368.4 L178.0,365.5 L212.0,363.3 L240.0,362.0 L248.2,361.7 L256.4,359.6 L265.0,356.9 L274.0,352.9 L283.0,348.8 L292.0,345.2 L301.0,341.6 L310.0,338.5 L317.0,335.8 L320.7,332.6 L325.0,328.4 L332.5,320.8 L340.0,313.3 L347.4,306.6 L354.9,300.6 L362.4,296.9 L369.9,291.6 L377.3,285.7 L384.8,281.2 L390.0,279.6 L399.0,276.0 L408.0,272.4 L417.0,270.2 L426.0,267.9 L434.9,266.1 L443.9,263.9 L452.9,261.2 L460.0,258.5 L468.5,253.0 L477.0,244.4 L485.4,234.2 L493.9,224.9 L502.4,216.4 L510.8,207.1 L520.0,197.8 L527.0,191.3 L533.0,188.9 L539.0,187.1 L550.9,185.3 L556.9,184.7 L562.8,182.3 L568.8,178.1 L574.8,173.9 L586.8,163.2 L598.7,156.6 L605.0,153.6 L612.0,146.1 L624.0,134.1 L636.0,124.6 L648.0,118.6 L657.5,112.0" fill="none" stroke="#00ffff" stroke-width="3" stroke-linejoin="round" />
</g>
<g shape-rendering="crispEdges">
<line x1="326.6" y1="412" x2="627.2" y2="2.0" stroke="#00ff00" stroke-width="2" />
<line x1="398.5" y1="412" x2="699.2" y2="2.0" stroke="#00ff00" stroke-width="2" />
<line x1="363.5" y1="412" x2="659.8" y2="8.2" stroke="#00ff00" stroke-width="1" />
<line x1="363.5" y1="412" x2="659.8" y2="8.2" stroke="#000000" stroke-width="1" stroke-dasharray="3 3"/>
</g>
<g shape-rendering="crispEdges">
<line x1="0" y1="22.5" x2="832" y2="22.5" stroke="#778899" stroke-width="1" />
<line x1="0" y1="26.5" x2="832" y2="26.5" stroke="#778899" stroke-width="1" />
<line x1="0" y1="45.5" x2="832" y2="45.5" stroke="#778899" stroke-width="1" />
<line x1="0" y1="73.5" x2="832" y2="73.5" stroke="#778899" stroke-width="1" />
<line x1="0" y1="84.5" x2="832" y2="84.5" stroke="#778899" stroke-width="1" />
<line x1="0" y1="112.5" x2="832" y2="112.5" stroke="#778899" stroke-width="1" />
<line x1="0" y1="202.5" x2="832" y2="202.5" stroke="#778899" stroke-width="1" />
<line x1="0" y1="234.5" x2="832" y2="234.5" stroke="#778899" stroke-width="1" />
<line x1="0" y1="360.5" x2="832" y2="360.5" stroke="#778899" stroke-width="1" />
<line x1="0" y1="60.0" x2="832" y2="60.0" stroke="#647890" stroke-width="2" />
<line x1="0" y1="40.5" x2="832" y2="40.5" stroke="#c0c0c0" stroke-width="1" />
</g>
<ellipse cx="652.5" cy="65.2" rx="3" ry="3.3" fill="none" stroke="#ff2020" stroke-width="1"/>
<polygon points="659,2 668,2 663.5,7" fill="#bdbdbd"/>
<g shape-rendering="crispEdges">
<line x1="0" y1="428.5" x2="832" y2="428.5" stroke="#c0c0c0" stroke-width="1" stroke-dasharray="3 3" stroke-dashoffset="2"/>
<line x1="0" y1="467.5" x2="832" y2="467.5" stroke="#c0c0c0" stroke-width="1" stroke-dasharray="3 3" stroke-dashoffset="2"/>
<rect x="0" y="447" width="3" height="4" fill="#00bfff"/>
<rect x="4" y="447" width="3" height="4" fill="#00bfff"/>
<rect x="8" y="447" width="3" height="4" fill="#00bfff"/>
<rect x="12" y="447" width="3" height="4" fill="#00bfff"/>
<rect x="16" y="447" width="3" height="4" fill="#00bfff"/>
<rect x="20" y="447" width="3" height="4" fill="#00bfff"/>
<rect x="24" y="449" width="3" height="2" fill="#00bfff"/>
<rect x="28" y="449" width="3" height="2" fill="#00bfff"/>
<rect x="32" y="449" width="3" height="2" fill="#00bfff"/>
<rect x="36" y="447" width="3" height="4" fill="#00bfff"/>
<rect x="40" y="447" width="3" height="4" fill="#00bfff"/>
<rect x="44" y="446" width="3" height="5" fill="#00bfff"/>
<rect x="48" y="445" width="3" height="6" fill="#00bfff"/>
<rect x="52" y="447" width="3" height="4" fill="#00bfff"/>
<rect x="56" y="449" width="3" height="2" fill="#00bfff"/>
<rect x="60" y="449" width="3" height="2" fill="#00bfff"/>
<rect x="64" y="449" width="3" height="2" fill="#00bfff"/>
<rect x="68" y="449" width="3" height="2" fill="#00bfff"/>
<rect x="72" y="449" width="3" height="2" fill="#00bfff"/>
<rect x="76" y="449" width="3" height="2" fill="#00bfff"/>
<rect x="80" y="449" width="3" height="2" fill="#00bfff"/>
<rect x="84" y="449" width="3" height="2" fill="#00bfff"/>
<rect x="88" y="443" width="3" height="8" fill="#00bfff"/>
<rect x="92" y="442" width="3" height="9" fill="#00bfff"/>
<rect x="96" y="442" width="3" height="9" fill="#00bfff"/>
<rect x="100" y="441" width="3" height="10" fill="#00bfff"/>
<rect x="104" y="442" width="3" height="9" fill="#00bfff"/>
<rect x="108" y="442" width="3" height="9" fill="#00bfff"/>
<rect x="112" y="442" width="3" height="9" fill="#00bfff"/>
<rect x="116" y="441" width="3" height="10" fill="#00bfff"/>
<rect x="120" y="442" width="3" height="9" fill="#00bfff"/>
<rect x="124" y="442" width="3" height="9" fill="#00bfff"/>
<rect x="128" y="442" width="3" height="9" fill="#00bfff"/>
<rect x="132" y="443" width="3" height="8" fill="#00bfff"/>
<rect x="136" y="443" width="3" height="8" fill="#00bfff"/>
<rect x="140" y="443" width="3" height="8" fill="#00bfff"/>
<rect x="144" y="443" width="3" height="8" fill="#00bfff"/>
<rect x="148" y="443" width="3" height="8" fill="#00bfff"/>
<rect x="152" y="446" width="3" height="5" fill="#00bfff"/>
<rect x="156" y="449" width="3" height="2" fill="#00bfff"/>
<rect x="160" y="450" width="3" height="1" fill="#00bfff"/>
<rect x="164" y="452" width="3" height="2" fill="#00bfff"/>
<rect x="168" y="452" width="3" height="3" fill="#00bfff"/>
<rect x="172" y="452" width="3" height="3" fill="#00bfff"/>
<rect x="176" y="452" width="3" height="3" fill="#00bfff"/>
<rect x="180" y="452" width="3" height="1" fill="#00bfff"/>
<rect x="184" y="450" width="3" height="1" fill="#00bfff"/>
<rect x="188" y="450" width="3" height="1" fill="#00bfff"/>
<rect x="192" y="450" width="3" height="1" fill="#00bfff"/>
<rect x="196" y="450" width="3" height="1" fill="#00bfff"/>
<rect x="200" y="450" width="3" height="1" fill="#00bfff"/>
<rect x="204" y="450" width="3" height="1" fill="#00bfff"/>
<rect x="212" y="452" width="3" height="3" fill="#00bfff"/>
<rect x="216" y="452" width="3" height="4" fill="#00bfff"/>
<rect x="220" y="452" width="3" height="5" fill="#00bfff"/>
<rect x="224" y="452" width="3" height="6" fill="#00bfff"/>
<rect x="228" y="452" width="3" height="6" fill="#00bfff"/>
<rect x="232" y="452" width="3" height="6" fill="#00bfff"/>
<rect x="236" y="452" width="3" height="5" fill="#00bfff"/>
<rect x="240" y="452" width="3" height="5" fill="#00bfff"/>
<rect x="244" y="452" width="3" height="2" fill="#00bfff"/>
<rect x="248" y="452" width="3" height="1" fill="#00bfff"/>
<rect x="252" y="447" width="3" height="4" fill="#00bfff"/>
<rect x="256" y="445" width="3" height="6" fill="#00bfff"/>
<rect x="260" y="443" width="3" height="8" fill="#00bfff"/>
<rect x="264" y="442" width="3" height="9" fill="#00bfff"/>
<rect x="268" y="441" width="3" height="10" fill="#00bfff"/>
<rect x="272" y="441" width="3" height="10" fill="#00bfff"/>
<rect x="276" y="439" width="3" height="12" fill="#00bfff"/>
<rect x="280" y="440" width="3" height="11" fill="#00bfff"/>
<rect x="284" y="441" width="3" height="10" fill="#00bfff"/>
<rect x="288" y="443" width="3" height="8" fill="#00bfff"/>
<rect x="292" y="444" width="3" height="7" fill="#00bfff"/>
<rect x="296" y="446" width="3" height="5" fill="#00bfff"/>
<rect x="300" y="449" width="3" height="2" fill="#00bfff"/>
<rect x="304" y="452" width="3" height="1" fill="#00bfff"/>
<rect x="308" y="452" width="3" height="1" fill="#00bfff"/>
<rect x="312" y="452" width="3" height="2" fill="#00bfff"/>
<rect x="316" y="447" width="3" height="4" fill="#00bfff"/>
<rect x="320" y="446" width="3" height="5" fill="#00bfff"/>
<rect x="324" y="440" width="3" height="11" fill="#00bfff"/>
<rect x="328" y="434" width="3" height="17" fill="#00bfff"/>
<rect x="332" y="431" width="3" height="20" fill="#00bfff"/>
<rect x="336" y="432" width="3" height="19" fill="#00bfff"/>
<rect x="340" y="432" width="3" height="19" fill="#00bfff"/>
<rect x="344" y="434" width="3" height="17" fill="#00bfff"/>
<rect x="348" y="439" width="3" height="12" fill="#00bfff"/>
<rect x="352" y="446" width="3" height="5" fill="#00bfff"/>
<rect x="360" y="452" width="3" height="4" fill="#00bfff"/>
<rect x="364" y="452" width="3" height="7" fill="#00bfff"/>
<rect x="368" y="452" width="3" height="9" fill="#00bfff"/>
<rect x="372" y="452" width="3" height="9" fill="#00bfff"/>
<rect x="376" y="452" width="3" height="8" fill="#00bfff"/>
<rect x="380" y="452" width="3" height="7" fill="#00bfff"/>
<rect x="384" y="452" width="3" height="7" fill="#00bfff"/>
<rect x="388" y="452" width="3" height="9" fill="#00bfff"/>
<rect x="392" y="452" width="3" height="11" fill="#00bfff"/>
<rect x="396" y="452" width="3" height="15" fill="#00bfff"/>
<rect x="400" y="452" width="3" height="16" fill="#00bfff"/>
<rect x="404" y="452" width="3" height="13" fill="#00bfff"/>
<rect x="408" y="452" width="3" height="11" fill="#00bfff"/>
<rect x="412" y="452" width="3" height="11" fill="#00bfff"/>
<rect x="416" y="452" width="3" height="13" fill="#00bfff"/>
<rect x="420" y="452" width="3" height="11" fill="#00bfff"/>
<rect x="424" y="452" width="3" height="9" fill="#00bfff"/>
<rect x="428" y="452" width="3" height="9" fill="#00bfff"/>
<rect x="432" y="452" width="3" height="11" fill="#00bfff"/>
<rect x="436" y="452" width="3" height="10" fill="#00bfff"/>
<rect x="440" y="452" width="3" height="8" fill="#00bfff"/>
<rect x="444" y="452" width="3" height="4" fill="#00bfff"/>
<rect x="448" y="452" width="3" height="2" fill="#00bfff"/>
<rect x="452" y="452" width="3" height="1" fill="#00bfff"/>
<rect x="456" y="449" width="3" height="2" fill="#00bfff"/>
<rect x="460" y="447" width="3" height="4" fill="#00bfff"/>
<rect x="464" y="445" width="3" height="6" fill="#00bfff"/>
<rect x="468" y="439" width="3" height="12" fill="#00bfff"/>
<rect x="472" y="434" width="3" height="17" fill="#00bfff"/>
<rect x="476" y="426" width="3" height="25" fill="#00bfff"/>
<rect x="480" y="422" width="3" height="29" fill="#00bfff"/>
<rect x="484" y="419" width="3" height="32" fill="#00bfff"/>
<rect x="488" y="418" width="3" height="33" fill="#00bfff"/>
<rect x="492" y="424" width="3" height="27" fill="#00bfff"/>
<rect x="496" y="432" width="3" height="19" fill="#00bfff"/>
<rect x="500" y="438" width="3" height="13" fill="#00bfff"/>
<rect x="504" y="438" width="3" height="13" fill="#00bfff"/>
<rect x="508" y="444" width="3" height="7" fill="#00bfff"/>
<rect x="512" y="445" width="3" height="6" fill="#00bfff"/>
<rect x="516" y="447" width="3" height="4" fill="#00bfff"/>
<rect x="520" y="452" width="3" height="6" fill="#00bfff"/>
<rect x="524" y="452" width="3" height="8" fill="#00bfff"/>
<rect x="528" y="452" width="3" height="9" fill="#00bfff"/>
<rect x="532" y="452" width="3" height="13" fill="#00bfff"/>
<rect x="536" y="452" width="3" height="21" fill="#00bfff"/>
<rect x="540" y="452" width="3" height="25" fill="#00bfff"/>
<rect x="544" y="452" width="3" height="26" fill="#00bfff"/>
<rect x="548" y="452" width="3" height="27" fill="#00bfff"/>
<rect x="552" y="452" width="3" height="28" fill="#00bfff"/>
<rect x="556" y="452" width="3" height="25" fill="#00bfff"/>
<rect x="560" y="452" width="3" height="20" fill="#00bfff"/>
<rect x="564" y="452" width="3" height="13" fill="#00bfff"/>
<rect x="568" y="452" width="3" height="4" fill="#00bfff"/>
<rect x="572" y="446" width="3" height="5" fill="#00bfff"/>
<rect x="576" y="441" width="3" height="10" fill="#00bfff"/>
<rect x="580" y="437" width="3" height="14" fill="#00bfff"/>
<rect x="584" y="436" width="3" height="15" fill="#00bfff"/>
<rect x="588" y="438" width="3" height="13" fill="#00bfff"/>
<rect x="592" y="442" width="3" height="9" fill="#00bfff"/>
<rect x="596" y="445" width="3" height="6" fill="#00bfff"/>
<rect x="600" y="445" width="3" height="6" fill="#00bfff"/>
<rect x="604" y="447" width="3" height="4" fill="#00bfff"/>
<rect x="608" y="442" width="3" height="9" fill="#00bfff"/>
<rect x="612" y="441" width="3" height="10" fill="#00bfff"/>
<rect x="616" y="440" width="3" height="11" fill="#00bfff"/>
<rect x="620" y="442" width="3" height="9" fill="#00bfff"/>
<rect x="624" y="443" width="3" height="8" fill="#00bfff"/>
<rect x="628" y="445" width="3" height="6" fill="#00bfff"/>
<rect x="632" y="450" width="3" height="1" fill="#00bfff"/>
<rect x="636" y="452" width="3" height="4" fill="#00bfff"/>
<rect x="640" y="452" width="3" height="9" fill="#00bfff"/>
<rect x="644" y="452" width="3" height="9" fill="#00bfff"/>
<rect x="648" y="452" width="3" height="9" fill="#00bfff"/>
<rect x="652" y="452" width="3" height="10" fill="#00bfff"/>
<rect x="656" y="452" width="3" height="7" fill="#00bfff"/>
<line x1="0" y1="435.5" x2="832" y2="435.5" stroke="#778899" stroke-width="1" />
<line x1="0" y1="448.5" x2="832" y2="448.5" stroke="#778899" stroke-width="1" />
<line x1="0" y1="451.5" x2="832" y2="451.5" stroke="#778899" stroke-width="1" />
<line x1="0" y1="461.5" x2="832" y2="461.5" stroke="#778899" stroke-width="1" />
</g>
<path d="M0.0,434.4 L4.0,431.7 L13.6,448.0 L16.3,461.5 L20.4,465.6 L34.0,465.6 L40.8,461.5 L47.6,446.6 L51.6,442.5 L57.0,452.0 L62.5,462.9 L70.7,465.6 L77.4,460.2 L84.2,457.5 L92.4,438.5 L99.2,426.2 L106.8,426.2 L116.3,434.4 L121.7,444.6 L130.0,441.2 L135.3,430.3 L143.5,424.9 L151.6,434.4 L158.4,452.0 L165.2,458.8 L173.4,460.2 L180.2,453.4 L187.0,441.2 L193.7,427.6 L200.5,430.3 L206.8,445.2 L212.2,460.2 L216.3,465.0 L224.5,466.3 L230.0,465.6 L235.3,458.8 L240.8,449.3 L246.2,439.8 L251.6,431.7 L257.0,426.2 L263.9,422.2 L276.0,421.5 L284.2,424.9 L292.4,427.6 L299.2,435.7 L306.0,450.7 L310.0,458.0 L313.6,452.0 L320.4,433.0 L327.2,422.2 L335.3,422.2 L340.8,427.6 L349.0,434.4 L355.7,448.0 L362.5,457.5 L369.3,453.4 L376.0,438.5 L384.2,431.7 L391.0,441.2 L396.5,454.8 L402.0,464.3 L408.7,456.1 L413.6,437.0 L420.4,442.5 L427.2,446.6 L435.3,447.3 L442.1,446.6 L447.6,435.7 L451.6,429.0 L458.4,427.6 L468.0,426.2 L476.0,423.5 L488.3,421.5 L495.0,426.2 L499.2,437.0 L503.3,450.7 L507.3,457.5 L509.5,457.5 L516.3,446.6 L523.1,446.6 L528.5,456.1 L536.7,457.5 L546.2,460.9 L554.3,462.2 L559.8,457.5 L565.2,446.6 L569.3,434.4 L573.4,424.9 L581.5,420.1 L588.3,426.2 L593.7,435.7 L598.2,450.7 L603.6,450.7 L609.0,441.2 L613.8,433.0 L617.2,426.9 L622.6,429.0 L628.0,437.1 L633.5,446.6 L638.9,458.8 L643.0,465.6 L647.0,464.3 L652.5,454.8 L656.6,446.6" fill="none" stroke="#ff0000" stroke-width="1" stroke-linejoin="round" stroke-dasharray="3 3" shape-rendering="crispEdges"/>
<path d="M0.0,427.6 L1.4,424.0 L13.6,475.0 L17.7,467.0 L25.8,462.2 L30.0,468.3 L41.0,463.0 L45.0,455.0 L49.6,427.6 L51.6,437.8 L54.3,449.3 L61.0,471.0 L70.7,465.0 L77.4,456.0 L84.2,456.0 L88.3,446.6 L93.7,423.5 L99.2,422.0 L104.0,426.0 L110.9,433.0 L117.7,445.2 L121.7,455.4 L127.2,434.4 L134.0,423.5 L140.8,422.2 L147.6,431.7 L154.3,443.9 L161.0,460.2 L165.2,462.2 L176.0,458.2 L178.8,453.4 L184.2,431.7 L189.7,426.2 L195.0,427.6 L200.5,434.4 L204.0,446.6 L209.5,468.3 L213.6,466.3 L225.8,468.3 L232.6,460.9 L238.0,448.0 L240.8,438.5 L247.6,431.7 L254.3,424.9 L259.8,421.5 L265.2,420.8 L277.4,420.1 L281.5,424.9 L288.3,427.6 L295.0,433.0 L300.5,448.0 L305.3,464.3 L309.5,461.5 L315.0,439.8 L320.4,422.2 L328.5,419.4 L335.3,426.2 L344.8,429.6 L351.6,442.5 L358.4,460.2 L365.2,457.5 L370.7,445.2 L377.4,429.0 L384.2,431.7 L389.7,445.2 L393.7,460.2 L397.8,468.3 L403.3,454.8 L409.5,433.0 L413.6,433.0 L419.0,448.0 L421.7,450.7 L427.2,444.6 L434.0,451.4 L439.4,447.3 L444.8,429.0 L449.0,426.9 L454.3,429.0 L462.5,426.9 L470.7,426.2 L478.8,422.2 L489.7,421.5 L495.0,430.3 L497.8,442.5 L502.0,460.9 L505.3,465.0 L508.2,452.0 L513.6,442.5 L519.0,444.0 L524.5,454.8 L529.9,460.2 L534.0,453.4 L540.8,458.8 L545.5,462.9 L550.3,458.8 L553.7,463.6 L559.8,453.4 L563.9,434.4 L567.9,424.9 L573.4,419.4 L580.2,420.1 L585.6,427.6 L592.4,439.8 L597.8,452.0 L601.9,454.8 L605.0,443.9 L609.0,424.9 L614.5,424.2 L618.5,427.6 L624.0,434.4 L629.4,441.2 L634.8,454.8 L638.9,465.6 L641.6,469.7 L647.0,458.8 L652.5,448.0 L658.0,435.7" fill="none" stroke="#0000ff" stroke-width="1" stroke-linejoin="round" shape-rendering="crispEdges"/>
<path d="M0.0,457.2 L8.0,459.5 L13.6,460.0 L27.0,458.8 L41.0,457.5 L46.0,454.8 L50.0,454.8 L53.0,459.5 L68.0,458.2 L85.6,458.2 L88.3,449.3 L95.0,443.2 L100.0,442.5 L104.6,446.6 L106.8,446.0 L113.6,442.5 L120.4,446.6 L124.5,439.0 L134.0,438.5 L140.8,436.4 L144.8,441.2 L151.6,440.5 L157.0,444.6 L168.0,443.9 L174.7,447.3 L178.8,445.3 L182.9,439.8 L195.0,440.5 L202.0,443.2 L208.0,444.0 L212.2,450.0 L220.4,450.7 L234.0,450.0 L238.0,448.0 L242.0,446.6 L246.2,447.3 L253.0,434.4 L261.0,432.3 L268.0,431.0 L277.4,427.6 L281.5,430.3 L288.3,431.7 L293.7,431.0 L297.8,435.0 L309.5,436.4 L313.6,431.7 L320.4,429.0 L327.2,424.2 L334.0,426.2 L340.8,426.9 L344.8,429.0 L349.0,435.7 L357.0,436.4 L365.2,439.8 L373.4,436.4 L381.5,437.1 L389.7,443.2 L396.5,448.6 L400.5,447.3 L405.4,441.2 L408.0,440.5 L412.2,448.0 L420.4,449.3 L427.2,445.0 L434.0,450.7 L438.0,449.3 L443.5,446.0 L454.3,445.2 L458.4,442.5 L465.2,442.5 L470.7,435.0 L476.0,431.7 L481.5,430.3 L489.7,430.0 L493.7,434.4 L497.8,437.1 L503.3,436.4 L506.0,439.0 L510.9,434.4 L513.6,434.4 L519.0,441.9 L531.3,442.5 L535.3,447.3 L536.7,450.4 L544.8,450.4 L553.0,451.4 L561.1,449.6 L563.9,446.0 L570.7,442.5 L577.4,438.5 L587.0,439.1 L592.4,440.5 L597.8,444.0 L600.9,441.2 L603.6,439.8 L607.7,437.8 L610.4,436.4 L617.2,436.4 L621.2,438.2 L628.0,438.2 L632.1,441.2 L636.2,444.6 L640.3,445.0 L645.7,442.3 L649.8,442.5 L653.9,445.3 L658.0,441.9" fill="none" stroke="#0000cd" stroke-width="2" stroke-linejoin="round" shape-rendering="crispEdges"/>
<g shape-rendering="crispEdges">
<line x1="0" y1="1.5" x2="833" y2="1.5" stroke="#000" stroke-width="1" />
<line x1="0" y1="412.5" x2="833" y2="412.5" stroke="#000" stroke-width="1" />
<line x1="832.5" y1="1" x2="832.5" y2="413" stroke="#000" stroke-width="1" />
<line x1="0" y1="414.5" x2="833" y2="414.5" stroke="#000" stroke-width="1" />
<line x1="0" y1="481.5" x2="833" y2="481.5" stroke="#000" stroke-width="1" />
<line x1="832.5" y1="414" x2="832.5" y2="482" stroke="#000" stroke-width="1" />
</g>
<rect x="833" y="13" width="2" height="1" fill="#000" shape-rendering="crispEdges"/>
<text x="838.5" y="18.1" font-family="Liberation Sans, sans-serif" font-size="10" fill="#000" stroke="#000" stroke-width="0.12" text-rendering="geometricPrecision" textLength="42" lengthAdjust="spacingAndGlyphs">126831.60</text>
<rect x="833" y="46" width="2" height="1" fill="#000" shape-rendering="crispEdges"/>
<text x="838.5" y="49.8" font-family="Liberation Sans, sans-serif" font-size="10" fill="#000" stroke="#000" stroke-width="0.12" text-rendering="geometricPrecision" textLength="42" lengthAdjust="spacingAndGlyphs">117419.40</text>
<rect x="833" y="79" width="2" height="1" fill="#000" shape-rendering="crispEdges"/>
<text x="838.5" y="82.8" font-family="Liberation Sans, sans-serif" font-size="10" fill="#000" stroke="#000" stroke-width="0.12" text-rendering="geometricPrecision" textLength="42" lengthAdjust="spacingAndGlyphs">108007.80</text>
<rect x="833" y="112" width="2" height="1" fill="#000" shape-rendering="crispEdges"/>
<text x="838.5" y="115.8" font-family="Liberation Sans, sans-serif" font-size="10" fill="#000" stroke="#000" stroke-width="0.12" text-rendering="geometricPrecision" textLength="37.5" lengthAdjust="spacingAndGlyphs">98596.80</text>
<rect x="833" y="145" width="2" height="1" fill="#000" shape-rendering="crispEdges"/>
<text x="838.5" y="148.8" font-family="Liberation Sans, sans-serif" font-size="10" fill="#000" stroke="#000" stroke-width="0.12" text-rendering="geometricPrecision" textLength="37.5" lengthAdjust="spacingAndGlyphs">89185.20</text>
<rect x="833" y="178" width="2" height="1" fill="#000" shape-rendering="crispEdges"/>
<text x="838.5" y="181.8" font-family="Liberation Sans, sans-serif" font-size="10" fill="#000" stroke="#000" stroke-width="0.12" text-rendering="geometricPrecision" textLength="37.5" lengthAdjust="spacingAndGlyphs">79773.60</text>
<rect x="833" y="211" width="2" height="1" fill="#000" shape-rendering="crispEdges"/>
<text x="838.5" y="214.8" font-family="Liberation Sans, sans-serif" font-size="10" fill="#000" stroke="#000" stroke-width="0.12" text-rendering="geometricPrecision" textLength="37.5" lengthAdjust="spacingAndGlyphs">70076.80</text>
<rect x="833" y="244" width="2" height="1" fill="#000" shape-rendering="crispEdges"/>
<text x="838.5" y="247.8" font-family="Liberation Sans, sans-serif" font-size="10" fill="#000" stroke="#000" stroke-width="0.12" text-rendering="geometricPrecision" textLength="37.5" lengthAdjust="spacingAndGlyphs">60665.20</text>
<rect x="833" y="277" width="2" height="1" fill="#000" shape-rendering="crispEdges"/>
<text x="838.5" y="280.8" font-family="Liberation Sans, sans-serif" font-size="10" fill="#000" stroke="#000" stroke-width="0.12" text-rendering="geometricPrecision" textLength="37.5" lengthAdjust="spacingAndGlyphs">51253.60</text>
<rect x="833" y="310" width="2" height="1" fill="#000" shape-rendering="crispEdges"/>
<text x="838.5" y="313.8" font-family="Liberation Sans, sans-serif" font-size="10" fill="#000" stroke="#000" stroke-width="0.12" text-rendering="geometricPrecision" textLength="37.5" lengthAdjust="spacingAndGlyphs">41842.00</text>
<rect x="833" y="343" width="2" height="1" fill="#000" shape-rendering="crispEdges"/>
<text x="838.5" y="346.8" font-family="Liberation Sans, sans-serif" font-size="10" fill="#000" stroke="#000" stroke-width="0.12" text-rendering="geometricPrecision" textLength="37.5" lengthAdjust="spacingAndGlyphs">32430.40</text>
<rect x="833" y="376" width="2" height="1" fill="#000" shape-rendering="crispEdges"/>
<text x="838.5" y="379.8" font-family="Liberation Sans, sans-serif" font-size="10" fill="#000" stroke="#000" stroke-width="0.12" text-rendering="geometricPrecision" textLength="37.5" lengthAdjust="spacingAndGlyphs">23018.80</text>
<rect x="833" y="409" width="2" height="1" fill="#000" shape-rendering="crispEdges"/>
<text x="838.5" y="412.8" font-family="Liberation Sans, sans-serif" font-size="10" fill="#000" stroke="#000" stroke-width="0.12" text-rendering="geometricPrecision" textLength="37.5" lengthAdjust="spacingAndGlyphs">13607.20</text>
<rect x="834" y="20" width="49" height="11" fill="#708090" shape-rendering="crispEdges"/>
<text x="838.5" y="28.8" font-family="Liberation Sans, sans-serif" font-size="10" fill="#ffffff" stroke="#ffffff" stroke-width="0" text-rendering="geometricPrecision" textLength="42" lengthAdjust="spacingAndGlyphs">123350.00</text>
<rect x="834" y="16" width="49" height="11" fill="#708090" shape-rendering="crispEdges"/>
<text x="838.5" y="24.8" font-family="Liberation Sans, sans-serif" font-size="10" fill="#ffffff" stroke="#ffffff" stroke-width="0" text-rendering="geometricPrecision" textLength="42" lengthAdjust="spacingAndGlyphs">124500.00</text>
<rect x="834" y="35" width="49" height="11" fill="#000000" shape-rendering="crispEdges"/>
<text x="838.5" y="44.3" font-family="Liberation Sans, sans-serif" font-size="10" fill="#ffffff" stroke="#ffffff" stroke-width="0" text-rendering="geometricPrecision" textLength="42" lengthAdjust="spacingAndGlyphs">119219.26</text>
<rect x="834" y="39" width="49" height="11" fill="#708090" shape-rendering="crispEdges"/>
<text x="838.5" y="47.8" font-family="Liberation Sans, sans-serif" font-size="10" fill="#ffffff" stroke="#ffffff" stroke-width="0" text-rendering="geometricPrecision" textLength="42" lengthAdjust="spacingAndGlyphs">117820.00</text>
<rect x="834" y="54" width="49" height="11" fill="#708090" shape-rendering="crispEdges"/>
<text x="838.5" y="61.8" font-family="Liberation Sans, sans-serif" font-size="10" fill="#ffffff" stroke="#ffffff" stroke-width="0" text-rendering="geometricPrecision" textLength="42" lengthAdjust="spacingAndGlyphs">113600.00</text>
<rect x="834" y="67" width="49" height="11" fill="#708090" shape-rendering="crispEdges"/>
<text x="838.5" y="75.8" font-family="Liberation Sans, sans-serif" font-size="10" fill="#ffffff" stroke="#ffffff" stroke-width="0" text-rendering="geometricPrecision" textLength="42" lengthAdjust="spacingAndGlyphs">109800.00</text>
<rect x="834" y="78" width="49" height="11" fill="#708090" shape-rendering="crispEdges"/>
<text x="838.5" y="86.8" font-family="Liberation Sans, sans-serif" font-size="10" fill="#ffffff" stroke="#ffffff" stroke-width="0" text-rendering="geometricPrecision" textLength="42" lengthAdjust="spacingAndGlyphs">106700.00</text>
<rect x="834" y="106" width="46" height="11" fill="#708090" shape-rendering="crispEdges"/>
<text x="838.5" y="114.8" font-family="Liberation Sans, sans-serif" font-size="10" fill="#ffffff" stroke="#ffffff" stroke-width="0" text-rendering="geometricPrecision" textLength="37.5" lengthAdjust="spacingAndGlyphs">98600.00</text>
<rect x="834" y="196" width="46" height="11" fill="#708090" shape-rendering="crispEdges"/>
<text x="838.5" y="204.8" font-family="Liberation Sans, sans-serif" font-size="10" fill="#ffffff" stroke="#ffffff" stroke-width="0" text-rendering="geometricPrecision" textLength="37.5" lengthAdjust="spacingAndGlyphs">72700.00</text>
<rect x="834" y="228" width="46" height="11" fill="#708090" shape-rendering="crispEdges"/>
<text x="838.5" y="236.8" font-family="Liberation Sans, sans-serif" font-size="10" fill="#ffffff" stroke="#ffffff" stroke-width="0" text-rendering="geometricPrecision" textLength="37.5" lengthAdjust="spacingAndGlyphs">63600.00</text>
<rect x="834" y="354" width="46" height="11" fill="#708090" shape-rendering="crispEdges"/>
<text x="838.5" y="362.8" font-family="Liberation Sans, sans-serif" font-size="10" fill="#ffffff" stroke="#ffffff" stroke-width="0" text-rendering="geometricPrecision" textLength="37.5" lengthAdjust="spacingAndGlyphs">27400.00</text>
<rect x="833" y="414" width="2" height="1" fill="#000" shape-rendering="crispEdges"/>
<rect x="833" y="480" width="2" height="1" fill="#000" shape-rendering="crispEdges"/>
<text x="836.5" y="425" font-family="Liberation Sans, sans-serif" font-size="10" fill="#000" stroke="#000" stroke-width="0.12" text-rendering="geometricPrecision" textLength="41.5" lengthAdjust="spacingAndGlyphs">5297.1022</text>
<text x="836.5" y="431" font-family="Liberation Sans, sans-serif" font-size="10" fill="#000" stroke="#000" stroke-width="0.12" text-rendering="geometricPrecision" textLength="9" lengthAdjust="spacingAndGlyphs">80</text>
<text x="836.5" y="454.6" font-family="Liberation Sans, sans-serif" font-size="10" fill="#000" stroke="#000" stroke-width="0.12" text-rendering="geometricPrecision" textLength="17.5" lengthAdjust="spacingAndGlyphs">0.00</text>
<text x="836.5" y="470" font-family="Liberation Sans, sans-serif" font-size="10" fill="#000" stroke="#000" stroke-width="0.12" text-rendering="geometricPrecision" textLength="9" lengthAdjust="spacingAndGlyphs">20</text>
<text x="836.5" y="477" font-family="Liberation Sans, sans-serif" font-size="10" fill="#000" stroke="#000" stroke-width="0.12" text-rendering="geometricPrecision" textLength="45.5" lengthAdjust="spacingAndGlyphs">-4440.0263</text>
<rect x="834" y="431" width="12" height="10" fill="#708090" shape-rendering="crispEdges"/>
<text x="835.5" y="439" font-family="Liberation Sans, sans-serif" font-size="10" fill="#fff" stroke="#fff" stroke-width="0" text-rendering="geometricPrecision" textLength="9.5" lengthAdjust="spacingAndGlyphs">70</text>
<rect x="834" y="444" width="12" height="10" fill="#708090" shape-rendering="crispEdges"/>
<text x="835.5" y="452" font-family="Liberation Sans, sans-serif" font-size="10" fill="#fff" stroke="#fff" stroke-width="0" text-rendering="geometricPrecision" textLength="9.5" lengthAdjust="spacingAndGlyphs">50</text>
<rect x="834" y="457" width="12" height="10" fill="#708090" shape-rendering="crispEdges"/>
<text x="835.5" y="465" font-family="Liberation Sans, sans-serif" font-size="10" fill="#fff" stroke="#fff" stroke-width="0" text-rendering="geometricPrecision" textLength="9.5" lengthAdjust="spacingAndGlyphs">30</text>
<text x="-4.6" y="494" font-family="Liberation Sans, sans-serif" font-size="10" fill="#000" stroke="#000" stroke-width="0.12" text-rendering="geometricPrecision" textLength="47.1" lengthAdjust="spacingAndGlyphs">31 Jul 2022</text>
<rect x="61" y="482" width="1" height="3" fill="#000" shape-rendering="crispEdges"/>
<text x="60.3" y="494" font-family="Liberation Sans, sans-serif" font-size="10" fill="#000" stroke="#000" stroke-width="0.12" text-rendering="geometricPrecision" textLength="53.2" lengthAdjust="spacingAndGlyphs">20 Nov 2022</text>
<rect x="125" y="482" width="1" height="3" fill="#000" shape-rendering="crispEdges"/>
<text x="124.7" y="494" font-family="Liberation Sans, sans-serif" font-size="10" fill="#000" stroke="#000" stroke-width="0.12" text-rendering="geometricPrecision" textLength="51.1" lengthAdjust="spacingAndGlyphs">12 Mar 2023</text>
<rect x="189" y="482" width="1" height="3" fill="#000" shape-rendering="crispEdges"/>
<text x="188.6" y="494" font-family="Liberation Sans, sans-serif" font-size="10" fill="#000" stroke="#000" stroke-width="0.12" text-rendering="geometricPrecision" textLength="40.8" lengthAdjust="spacingAndGlyphs">2 Jul 2023</text>
<rect x="253" y="482" width="1" height="3" fill="#000" shape-rendering="crispEdges"/>
<text x="252.1" y="494" font-family="Liberation Sans, sans-serif" font-size="10" fill="#000" stroke="#000" stroke-width="0.12" text-rendering="geometricPrecision" textLength="50.1" lengthAdjust="spacingAndGlyphs">22 Oct 2023</text>
<rect x="317" y="482" width="1" height="3" fill="#000" shape-rendering="crispEdges"/>
<text x="317" y="494" font-family="Liberation Sans, sans-serif" font-size="10" fill="#000" stroke="#000" stroke-width="0.12" text-rendering="geometricPrecision" textLength="49.9" lengthAdjust="spacingAndGlyphs">11 Feb 2024</text>
<rect x="381" y="482" width="1" height="3" fill="#000" shape-rendering="crispEdges"/>
<text x="380.5" y="494" font-family="Liberation Sans, sans-serif" font-size="10" fill="#000" stroke="#000" stroke-width="0.12" text-rendering="geometricPrecision" textLength="43.5" lengthAdjust="spacingAndGlyphs">2 Jun 2024</text>
<rect x="445" y="482" width="1" height="3" fill="#000" shape-rendering="crispEdges"/>
<text x="444.4" y="494" font-family="Liberation Sans, sans-serif" font-size="10" fill="#000" stroke="#000" stroke-width="0.12" text-rendering="geometricPrecision" textLength="51.6" lengthAdjust="spacingAndGlyphs">22 Sep 2024</text>
<rect x="509" y="482" width="1" height="3" fill="#000" shape-rendering="crispEdges"/>
<text x="508" y="494" font-family="Liberation Sans, sans-serif" font-size="10" fill="#000" stroke="#000" stroke-width="0.12" text-rendering="geometricPrecision" textLength="49.6" lengthAdjust="spacingAndGlyphs">12 Jan 2025</text>
<rect x="573" y="482" width="1" height="3" fill="#000" shape-rendering="crispEdges"/>
<text x="571.8" y="494" font-family="Liberation Sans, sans-serif" font-size="10" fill="#000" stroke="#000" stroke-width="0.12" text-rendering="geometricPrecision" textLength="50" lengthAdjust="spacingAndGlyphs">4 May 2025</text>
<rect x="637" y="482" width="1" height="3" fill="#000" shape-rendering="crispEdges"/>
<text x="636.6" y="494" font-family="Liberation Sans, sans-serif" font-size="10" fill="#000" stroke="#000" stroke-width="0.12" text-rendering="geometricPrecision" textLength="52.5" lengthAdjust="spacingAndGlyphs">24 Aug 2025</text>
<g shape-rendering="crispEdges" fill="#000"><rect x="0" y="8" width="7" height="1"/><rect x="1" y="9" width="5" height="1"/><rect x="2" y="10" width="3" height="1"/><rect x="3" y="11" width="1" height="1"/></g>
<text x="12.5" y="13.3" font-family="Liberation Sans, sans-serif" font-size="10" fill="#000" stroke="#000" stroke-width="0.12" text-rendering="geometricPrecision" textLength="90.5" lengthAdjust="spacingAndGlyphs">BTCUSD.futu,Weekly</text>
<text x="110.5" y="13.3" font-family="Liberation Sans, sans-serif" font-size="10" fill="#000" stroke="#000" stroke-width="0.12" text-rendering="geometricPrecision" textLength="181" lengthAdjust="spacingAndGlyphs">110812.04 119462.91 110646.10 119219.26</text>
<text x="1.8" y="427.6" font-family="Liberation Sans, sans-serif" font-size="10" fill="#000" stroke="#000" stroke-width="0.12" text-rendering="geometricPrecision" textLength="62.5" lengthAdjust="spacingAndGlyphs">OsMA(12,26,9)</text>
<text x="68" y="427.6" font-family="Liberation Sans, sans-serif" font-size="10" fill="#000" stroke="#000" stroke-width="0.12" text-rendering="geometricPrecision" textLength="45.2" lengthAdjust="spacingAndGlyphs">-1097.0054</text>
<text x="120.5" y="427.6" font-family="Liberation Sans, sans-serif" font-size="10" fill="#000" stroke="#000" stroke-width="0.12" text-rendering="geometricPrecision" textLength="48.8" lengthAdjust="spacingAndGlyphs">Stoch(5,3,3)</text>
<text x="173.4" y="427.6" font-family="Liberation Sans, sans-serif" font-size="10" fill="#000" stroke="#000" stroke-width="0.12" text-rendering="geometricPrecision" textLength="32" lengthAdjust="spacingAndGlyphs">69.9331</text>
<text x="209.5" y="427.6" font-family="Liberation Sans, sans-serif" font-size="10" fill="#000" stroke="#000" stroke-width="0.12" text-rendering="geometricPrecision" textLength="32" lengthAdjust="spacingAndGlyphs">55.9369</text>
<text x="248.2" y="427.6" font-family="Liberation Sans, sans-serif" font-size="10" fill="#000" stroke="#000" stroke-width="0.12" text-rendering="geometricPrecision" textLength="31.3" lengthAdjust="spacingAndGlyphs">RSI(14)</text>
<text x="281.5" y="427.6" font-family="Liberation Sans, sans-serif" font-size="10" fill="#000" stroke="#000" stroke-width="0.12" text-rendering="geometricPrecision" textLength="34" lengthAdjust="spacingAndGlyphs">61.5015</text>
</svg>
</body></html>
